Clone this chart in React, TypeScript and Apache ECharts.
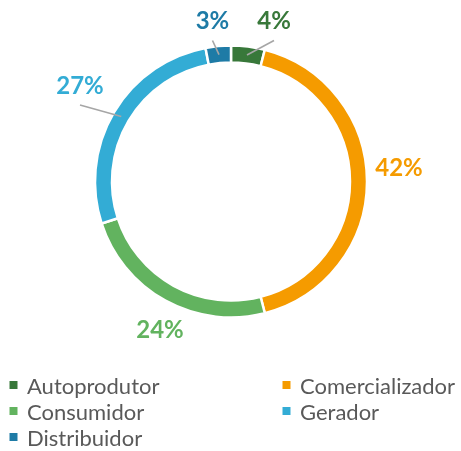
import React, { useEffect, useRef } from 'react';
import * as echarts from 'echarts';

const categories = ['Autoprodutor', 'Comercializador', 'Consumidor', 'Gerador', 'Distribuidor'];
const values = [4, 42, 24, 27, 3];
const colors = ['#38783A', '#F59B00', '#62B35F', '#33ACD5', '#1E7BA6'];
const legendLeft = ['Autoprodutor', 'Consumidor', 'Distribuidor'];
const legendRight = ['Comercializador', 'Gerador'];
const labelCenters: [number, number][] = [[274, 19.5], [399, 166.5], [160, 328], [80, 84], [212.5, 19.5]];
const showLine = [true, false, false, true, true];

const CENTER: [number, number] = [231, 181.5];
const R_IN = 119;
const R_OUT = 136;

export default function App() {
  const ref = useRef<HTMLDivElement>(null);
  useEffect(() => {
    const chart = echarts.init(ref.current!, null, { renderer: 'svg' });
    const total = values.reduce((a, b) => a + b, 0);
    const midAngles: number[] = [];
    let acc = 0;
    values.forEach((v) => {
      midAngles.push(((acc + v / 2) / total) * Math.PI * 2);
      acc += v;
    });
    const rMid = (R_IN + R_OUT) / 2;
    const legendBase = {
      orient: 'vertical',
      top: 374,
      padding: 0,
      itemWidth: 17,
      itemHeight: 8,
      itemGap: 4,
      icon: 'path://M0,0H10V10H0Z',
      itemStyle: { borderWidth: 0 },
      selectedMode: false,
      textStyle: { fontFamily: 'Lato', fontSize: 22, color: '#595959' },
    };
    const pieBase = {
      type: 'pie',
      center: CENTER,
      radius: [R_IN, R_OUT],
      startAngle: 90,
      clockwise: true,
      avoidLabelOverlap: false,
      silent: true,
    };
    chart.setOption({
      animation: false,
      legend: [
        { ...legendBase, left: 9.5, data: legendLeft },
        { ...legendBase, left: 282.5, data: legendRight },
      ],
      series: [
        {
          ...pieBase,
          z: 2,
          itemStyle: { borderColor: '#fff', borderWidth: 2.5 },
          label: { show: false },
          labelLine: { show: false },
          data: categories.map((n, i) => ({ name: n, value: values[i], itemStyle: { color: colors[i] } })),
        },
        {
          ...pieBase,
          z: 5,
          itemStyle: { color: 'rgba(0,0,0,0)', borderWidth: 0 },
          label: {
            show: true,
            position: 'outside',
            formatter: '{c}%',
            fontFamily: 'Lato',
            fontWeight: 'bold',
            fontSize: 24,
          },
          labelLine: { show: true, length: 10, length2: 0, lineStyle: { color: '#A6A6A6', width: 1.6 } },
          labelLayout: (p: any) => {
            const i = p.dataIndex;
            const [cx, cy] = labelCenters[i];
            const r = p.labelRect;
            const res: any = {
              dx: cx - (r.x + r.width / 2),
              dy: cy - (r.y + r.height / 2),
            };
            if (showLine[i]) {
              const a = midAngles[i];
              const s = [CENTER[0] + rMid * Math.sin(a), CENTER[1] - rMid * Math.cos(a)];
              const e = [cx, cy + 21];
              res.labelLinePoints = [s, e, e];
            }
            return res;
          },
          data: categories.map((n, i) => ({
            name: n,
            value: values[i],
            label: { color: colors[i] },
            labelLine: { show: showLine[i] },
          })),
        },
      ],
    });
    return () => chart.dispose();
  }, []);
  return <div ref={ref} style={{ position: 'fixed', left: 0, top: 0, width: 461, height: 451 }} />;
}
